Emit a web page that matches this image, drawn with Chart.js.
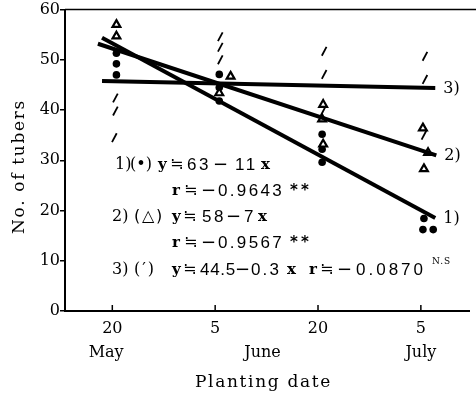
<!DOCTYPE html>
<html>
<head>
<meta charset="utf-8">
<script src="https://cdn.jsdelivr.net/npm/chart.js@4.4.1/dist/chart.umd.min.js"></script>
<style>
  html, body { margin: 0; padding: 0; background: #fff; }
  #wrap { width: 476px; height: 397px; position: relative; }
</style>
</head>
<body>
<div id="wrap"><canvas id="chart"></canvas></div>
<script>
// x is measured in tick steps: 0 = 20 May, 1 = 5 June, 2 = 20 June, 3 = 5 July
const tickPos    = [0, 1, 2, 3];
const tickLabels = ['20', '5', '20', '5'];
const monthPos   = [-0.06, 1.46, 3.0];
const monthNames = ['May', 'June', 'July'];

// 1) dots
const dotX = [0.04, 0.04, 0.04, 1.04, 1.04, 1.04, 2.04, 2.04, 2.04, 3.03, 3.02, 3.12];
const dotY = [51.3, 49.2, 47.0, 47.1, 44.5, 41.8, 35.2, 32.2, 29.6, 18.4, 16.2, 16.2];
// 2) triangles
const triX = [0.04, 0.04, 1.15, 1.04, 2.05, 2.04, 2.05, 3.02, 3.07, 3.03];
const triY = [57.0, 54.7, 46.7, 43.4, 41.1, 38.2, 33.2, 36.4, 31.5, 28.3];
// 3) slash marks
const slashX = [0.03, 0.03, 0.02, 1.05, 1.05, 1.05, 2.06, 2.06, 2.05, 3.04, 3.04, 3.03];
const slashY = [42.4, 39.8, 34.5, 54.6, 52.5, 50.0, 51.7, 47.1, 39.8, 50.7, 46.1, 35.0];

// fitted lines, start and end as drawn
const line1X = [-0.10, 3.14], line1Y = [54.4, 18.5];
const line2X = [-0.14, 3.15], line2Y = [53.2, 31.0];
const line3X = [-0.10, 3.14], line3Y = [45.8, 44.4];
const lineNames = ['1)', '2)', '3)'];

const pts = (xs, ys) => xs.map((x, i) => ({ x: x, y: ys[i] }));

const SERIF = '"DejaVu Serif", "Liberation Serif", serif';
const F_LBL = '16px ' + SERIF;
const F_VAR = 'bold 15px ' + SERIF;
const F_NUM = '17px "Liberation Sans", Arial, sans-serif';
const F_SYM = '16px "DejaVu Sans", sans-serif';
const F_MIN = '18px "DejaVu Sans", sans-serif';
const F_AST = 'bold 15px "DejaVu Sans", sans-serif';

function fitText(ctx, text, x, y, w) {
    ctx.letterSpacing = '0px';
    ctx.textAlign = 'left';
    if (w) {
        const m = ctx.measureText(text).width;
        ctx.letterSpacing = ((w - m) / text.length) + 'px';
    }
    ctx.fillText(text, x, y);
    ctx.letterSpacing = '0px';
}

// each piece: text, left x, font, width to fit (optional)
function drawRow(ctx, y, pieces) {
    pieces.forEach(p => {
        ctx.font = p[2];
        fitText(ctx, p[0], p[1], y, p[3]);
    });
}

const decorations = {
    id: 'decorations',
    afterDraw(chart) {
        const ctx = chart.ctx;
        const xs = chart.scales.x, ys = chart.scales.y;
        const area = chart.chartArea;
        ctx.save();
        ctx.strokeStyle = '#000';
        ctx.fillStyle = '#000';

        // top frame line
        ctx.lineWidth = 1.5;
        ctx.beginPath();
        ctx.moveTo(area.left, area.top);
        ctx.lineTo(chart.width, area.top);
        ctx.stroke();

        // inward ticks on the date axis
        tickPos.forEach(v => {
            const px = xs.getPixelForValue(v);
            ctx.beginPath();
            ctx.moveTo(px, area.bottom);
            ctx.lineTo(px, area.bottom - 6);
            ctx.stroke();
        });

        ctx.textBaseline = 'middle';
        ctx.font = F_LBL;
        ctx.textAlign = 'center';
        monthNames.forEach((m, i) => {
            ctx.fillText(m, xs.getPixelForValue(monthPos[i]), 353);
        });

        // axis titles
        ctx.font = '17px ' + SERIF;
        fitText(ctx, 'Planting date', 195, 383, 137);
        ctx.save();
        ctx.translate(20, 167);
        ctx.rotate(-Math.PI / 2);
        fitText(ctx, 'No. of tubers', -67, 0, 135);
        ctx.restore();

        // line names at the right end of each line
        ctx.font = F_LBL;
        [[line1X, line1Y], [line2X, line2Y], [line3X, line3Y]].forEach((l, i) => {
            const n = l[0].length - 1;
            ctx.textAlign = 'left';
            ctx.fillText(lineNames[i], xs.getPixelForValue(l[0][n]) + 8, ys.getPixelForValue(l[1][n]) + 1);
        });

        // regression equations
        drawRow(ctx, 165, [
            ['1)', 115, F_LBL], ['(•)', 130, F_LBL, 22],
            ['y', 158, F_VAR], ['≒', 170, F_SYM], ['63', 187, F_NUM, 24],
            ['−', 213, F_MIN], ['11', 235, F_NUM, 23], ['x', 261, F_VAR]
        ]);
        drawRow(ctx, 191, [
            ['r', 172, F_VAR], ['≒', 184, F_SYM], ['−', 201, F_MIN],
            ['0.9643', 218, F_NUM, 66], ['**', 290, F_AST, 22]
        ]);
        drawRow(ctx, 217, [
            ['2)', 112, F_LBL], ['(△)', 134, F_SYM, 30],
            ['y', 172, F_VAR], ['≒', 183, F_SYM], ['58', 202, F_NUM, 24],
            ['−', 226, F_MIN], ['7', 244, F_NUM], ['x', 258, F_VAR]
        ]);
        drawRow(ctx, 243, [
            ['r', 172, F_VAR], ['≒', 184, F_SYM], ['−', 201, F_MIN],
            ['0.9567', 218, F_NUM, 66], ['**', 290, F_AST, 22]
        ]);
        drawRow(ctx, 270, [
            ['3)', 112, F_LBL], ['(′)', 134, F_LBL, 22],
            ['y', 172, F_VAR], ['≒', 183, F_SYM], ['44.5', 200, F_NUM, 36],
            ['−', 235, F_MIN], ['0.3', 251, F_NUM, 30], ['x', 287, F_VAR],
            ['r', 309, F_VAR], ['≒', 320, F_SYM], ['−', 337, F_MIN],
            ['0.0870', 356, F_NUM, 70]
        ]);
        drawRow(ctx, 262, [['N.S', 432, '9px ' + SERIF, 19]]);
        ctx.restore();
    }
};

const lineStyle = {
    type: 'line',
    borderColor: '#000',
    borderWidth: 4,
    pointRadius: 0,
    fill: false,
    showLine: true
};

new Chart(document.getElementById('chart'), {
    type: 'scatter',
    data: {
        datasets: [
            Object.assign({ data: pts(line1X, line1Y) }, lineStyle),
            Object.assign({ data: pts(line2X, line2Y) }, lineStyle),
            Object.assign({ data: pts(line3X, line3Y) }, lineStyle),
            {
                data: pts(slashX, slashY),
                pointStyle: 'line',
                rotation: -62,
                pointRadius: 5,
                borderColor: '#000',
                borderWidth: 1.8
            },
            {
                data: pts(triX, triY),
                pointStyle: 'triangle',
                pointRadius: 4.5,
                backgroundColor: '#fff',
                borderColor: '#000',
                borderWidth: 2.2
            },
            {
                data: pts(dotX, dotY),
                pointStyle: 'circle',
                pointRadius: 3.8,
                backgroundColor: '#000',
                borderColor: '#000',
                borderWidth: 0
            }
        ]
    },
    options: {
        responsive: true,
        maintainAspectRatio: false,
        devicePixelRatio: 1,
        animation: false,
        events: [],
        layout: { padding: { top: 8, right: 2, left: 0, bottom: 0 } },
        plugins: {
            legend: { display: false },
            tooltip: { enabled: false }
        },
        scales: {
            x: {
                type: 'linear',
                min: -0.46,
                max: 3.47,
                afterBuildTicks: s => { s.ticks = tickPos.map(v => ({ value: v })); },
                afterFit: s => { s.height = 86; },
                grid: { display: true, drawOnChartArea: false, drawTicks: false },
                border: { display: true, color: '#000', width: 2 },
                ticks: {
                    padding: 8,
                    color: '#000',
                    autoSkip: false,
                    maxRotation: 0,
                    font: { family: SERIF, size: 16 },
                    callback: (v, i) => tickLabels[i]
                }
            },
            y: {
                min: 0,
                max: 60,
                afterFit: s => { s.width = 65; },
                grid: { drawOnChartArea: false, tickLength: 5, color: '#000', lineWidth: 1.5 },
                border: { display: true, color: '#000', width: 2 },
                ticks: {
                    stepSize: 10,
                    padding: 0,
                    color: '#000',
                    font: { family: SERIF, size: 16 }
                }
            }
        }
    },
    plugins: [decorations]
});
</script>
</body>
</html>
